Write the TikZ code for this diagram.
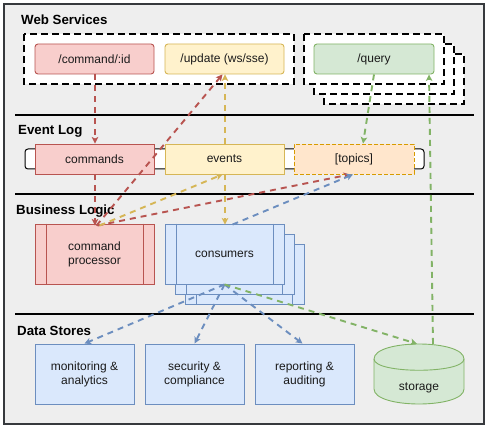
\documentclass[tikz,border=0pt]{standalone}
\usepackage{fontspec}
\setmainfont{Liberation Sans}
\usetikzlibrary{arrows.meta,calc}
\definecolor{bgc}{HTML}{EEEEEE}
\definecolor{framec}{HTML}{36393D}
\definecolor{redf}{HTML}{F8CECC}
\definecolor{redd}{HTML}{B85450}
\definecolor{yelf}{HTML}{FFF2CC}
\definecolor{yeld}{HTML}{D6B656}
\definecolor{grnf}{HTML}{D5E8D4}
\definecolor{grnd}{HTML}{82B366}
\definecolor{orf}{HTML}{FFE6CC}
\definecolor{ord}{HTML}{D79B00}
\definecolor{bluf}{HTML}{DAE8FC}
\definecolor{blud}{HTML}{6C8EBF}
\definecolor{txtc}{HTML}{1A1A1A}
\tikzset{
  title/.style={font=\fontsize{13.3}{15}\selectfont\bfseries, text=black, inner sep=0pt, anchor=base west},
  box/.style={inner sep=0pt, line width=0.9pt, font=\fontsize{12}{14}\selectfont, text=txtc, align=center},
  redbox/.style={box, fill=redf, draw=redd},
  yelbox/.style={box, fill=yelf, draw=yeld},
  grnbox/.style={box, fill=grnf, draw=grnd},
  orbox/.style={box, fill=orf, draw=ord, dash pattern=on 4pt off 2pt},
  blubox/.style={box, fill=bluf, draw=blud},
  wide/.style={minimum width=119pt, minimum height=30pt},
  tall/.style={minimum width=119pt, minimum height=60pt},
  store/.style={minimum width=99pt, minimum height=60pt},
  webframe/.style={fill=white, draw=black, line width=1.3pt, dash pattern=on 7pt off 4pt},
  sep/.style={draw=black, line width=1.6pt},
  arr/.style={line width=1.9pt, dash pattern=on 6pt off 5pt, -{Stealth[length=6.5pt,width=6.5pt,inset=1.5pt]}},
}
\begin{document}
\begin{tikzpicture}[x=1pt,y=-1pt]
\useasboundingbox (0,0) rectangle (497,438);
\draw[fill=bgc, draw=framec, line width=1.2pt] (4,4) rectangle (484,424);
% separators
\draw[sep] (15,115) -- (474,115);
\draw[sep] (15,194) -- (474,194);
\draw[sep] (15,314) -- (474,314);
% titles
\node[title] (tws) at (21,24.5) {Web Services};
\node[title] (tel) at (18,135) {Event Log};
\node[title] (tbl) at (16,214.5) {Business Logic};
\node[title] (tds) at (17,335) {Data Stores};
% web service frames
\draw[webframe] (24,34) rectangle (294,84);
\draw[webframe] (324,54) rectangle (464,104);
\draw[webframe] (314,44) rectangle (454,94);
\draw[webframe] (304,34) rectangle (444,84);
% event log rail
\draw[fill=white, draw=black, line width=1pt, rounded corners=3pt] (25,149) rectangle (424,169);
% web nodes
\node[redbox, wide, rounded corners=3pt] (cmdid) at (94.5,59) {/command/:id};
\node[yelbox, wide, rounded corners=3pt] (update) at (224.5,59) {/update (ws/sse)};
\node[grnbox, wide, rounded corners=3pt, minimum width=120pt] (query) at (374,59) {/query};
% event log nodes
\node[redbox, wide] (commands) at (94.5,159) {commands};
\node[yelbox, wide] (events) at (224.5,159) {events};
\node[orbox, wide, minimum width=120pt] (topics) at (354,159) {[topics]};
% business logic
\node[redbox, tall] (cproc) at (94.5,254) {command\\processor};
\draw[draw=redd, line width=0.9pt] ([xshift=11.5pt]cproc.north west) -- ([xshift=11.5pt]cproc.south west);
\draw[draw=redd, line width=0.9pt] ([xshift=-11.5pt]cproc.north east) -- ([xshift=-11.5pt]cproc.south east);
\foreach \k in {20,10} {
  \draw[fill=bluf, draw=blud, line width=0.9pt] ({165+\k},{224+\k}) rectangle ({284+\k},{284+\k});
  \draw[draw=blud, line width=0.9pt] ({176.5+\k},{224+\k}) -- ({176.5+\k},{284+\k});
  \draw[draw=blud, line width=0.9pt] ({272.5+\k},{224+\k}) -- ({272.5+\k},{284+\k});
}
\node[blubox, tall] (consumers) at (224.5,254) {consumers};
\draw[draw=blud, line width=0.9pt] ([xshift=11.5pt]consumers.north west) -- ([xshift=11.5pt]consumers.south west);
\draw[draw=blud, line width=0.9pt] ([xshift=-11.5pt]consumers.north east) -- ([xshift=-11.5pt]consumers.south east);
% data stores
\node[blubox, store] (monitoring) at (84.5,374) {monitoring \&\\analytics};
\node[blubox, store] (security) at (194.5,374) {security \&\\compliance};
\node[blubox, store] (reporting) at (304.5,374) {reporting \&\\auditing};
\node[inner sep=0pt, minimum width=90pt, minimum height=60pt] (storage) at (419,374) {};
\draw[fill=grnf, draw=grnd, line width=0.9pt] (374,359) .. controls (374,339) and (464,339) .. (464,359) -- (464,389) .. controls (464,409) and (374,409) .. (374,389) -- cycle;
\draw[draw=grnd, line width=0.9pt] (374,359) .. controls (374,374) and (464,374) .. (464,359);
\node[box] (storagelabel) at (419,388) {storage};
% arrows
\draw[arr, redd] ([xshift=0.5pt]cmdid.south) -- ([xshift=0.5pt]commands.north);
\draw[arr, redd] ([xshift=0.5pt]commands.south) -- ([xshift=0.5pt,yshift=-2pt]cproc.north);
\draw[arr, redd] ([xshift=2pt,yshift=-2pt]cproc.north) -- ([xshift=-2pt]update.south);
\draw[arr, redd] ([xshift=3pt,yshift=-2pt]cproc.north) -- ([xshift=-4pt]topics.south);
\draw[arr, yeld] ([xshift=5pt,yshift=-2pt]cproc.north) -- ([xshift=-2pt]events.south);
\draw[arr, yeld] ([xshift=0.5pt]events.north) -- ([xshift=0.5pt]update.south);
\draw[arr, yeld] ([xshift=0.5pt]events.south) -- ([xshift=0.5pt,yshift=-1pt]consumers.north);
\draw[arr, blud] ([xshift=8pt,yshift=-1pt]consumers.north) -- ([xshift=-1pt]topics.south);
\draw[arr, grnd] (query.south) -- ([xshift=9pt]topics.north);
\draw[arr, grnd] ([xshift=14pt]storage.north) -- ([xshift=55pt]query.south);
\draw[arr, blud] (consumers.south) -- (monitoring.north);
\draw[arr, blud] (consumers.south) -- (security.north);
\draw[arr, blud] (consumers.south) -- ([xshift=-2pt]reporting.north);
\draw[arr, grnd] (consumers.south) -- ([xshift=-2pt]storage.north);
\end{tikzpicture}
\end{document}
